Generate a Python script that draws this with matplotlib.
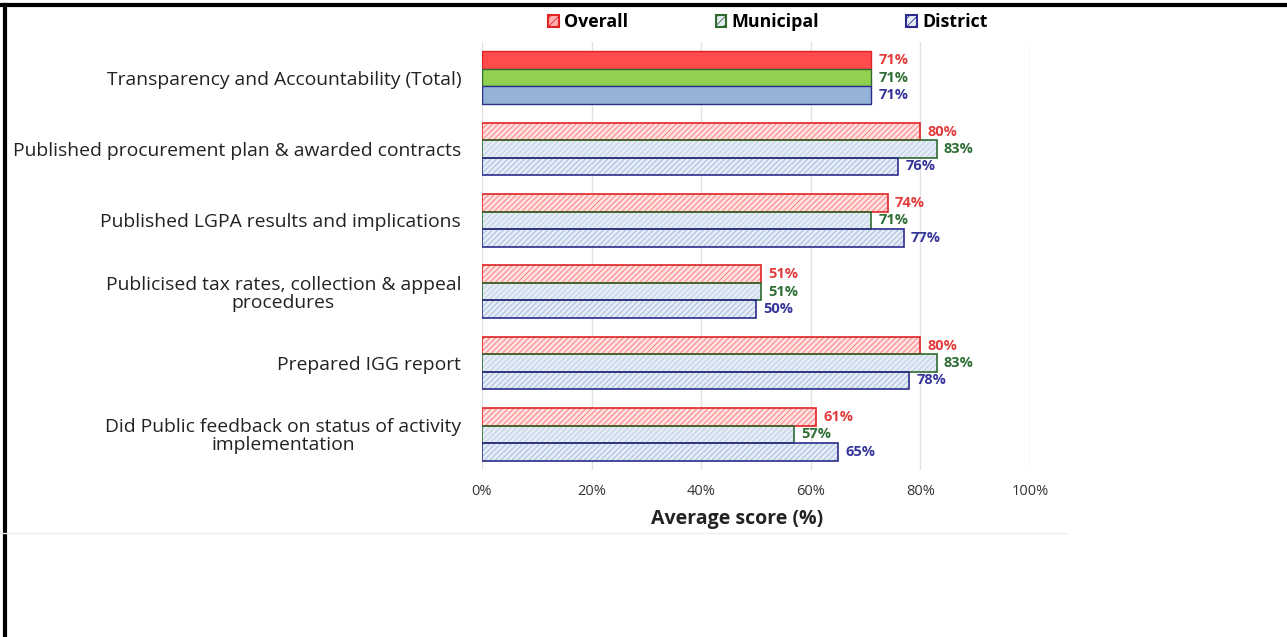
import numpy as np
import matplotlib
matplotlib.use("Agg")
import matplotlib.pyplot as plt
from matplotlib.patches import Patch
from matplotlib.lines import Line2D

plt.rcParams['font.family'] = ['Open Sans', 'DejaVu Sans']
plt.rcParams['hatch.linewidth'] = 0.6

# data
categories = [
    "Transparency and Accountability (Total)",
    "Published procurement plan & awarded contracts",
    "Published LGPA results and implications",
    "Publicised tax rates, collection & appeal\nprocedures",
    "Prepared IGG report",
    "Did Public feedback on status of activity\nimplementation",
]
series_names = ["Overall", "Municipal", "District"]
overall = [71, 80, 74, 51, 80, 61]
municipal = [71, 83, 71, 51, 83, 57]
district = [71, 76, 77, 50, 78, 65]

# styles
solid_fill = ["#ff4b4b", "#92d050", "#95b3d7"]
hatch_fill = ["#ffe0e0", "#e4ecf6", "#e4ecf6"]
hatch_col = ["#ff7070", "#b8cbe3", "#9db5dc"]
edge_col = ["#e02424", "#2f6b2f", "#2c2c8c"]
text_col = ["#e23c3c", "#2f6e35", "#35359a"]

fig = plt.figure(figsize=(12.87, 6.37), dpi=100)
ax = fig.add_axes([482 / 1287, 1 - 470 / 637, 548 / 1287, 428 / 637])

y = np.arange(len(categories))
h = 0.245
offsets = [-h, 0, h]
all_vals = [overall, municipal, district]

for s, vals in enumerate(all_vals):
    for i, v in enumerate(vals):
        yy = y[i] + offsets[s]
        if i == 0:
            ax.barh(yy, v, height=h, color=solid_fill[s], edgecolor=edge_col[s], linewidth=1.0, zorder=3)
        else:
            ax.barh(yy, v, height=h, color=hatch_fill[s], edgecolor=hatch_col[s], hatch='//////',
                    linewidth=0, zorder=3)
            ax.barh(yy, v, height=h, fill=False, edgecolor=edge_col[s], linewidth=1.2, zorder=4)
        ax.text(v + 1.3, yy, f"{v}%", color=text_col[s], fontsize=10.5, fontweight='bold',
                va='center', ha='left', zorder=5)

ax.set_xlim(0, 100)
ax.set_ylim(len(categories) - 0.5, -0.5)
ax.set_xticks(range(0, 101, 20))
ax.set_xticklabels([f"{t}%" for t in range(0, 101, 20)], fontsize=10.5, color="#333333")
ax.set_yticks(y)
ax.set_yticklabels(categories, fontsize=13.9, color="#222222", multialignment='center',
                   linespacing=1.0)
ax.tick_params(axis='both', length=0)
ax.tick_params(axis='y', pad=15)
ax.tick_params(axis='x', pad=10)
ax.grid(axis='x', color="#e2e2e2", linewidth=1.0, zorder=0)
for sp in ax.spines.values():
    sp.set_visible(False)
ax.set_xlabel("Average score (%)", fontsize=14, fontweight='bold', color="#222222")
ax.xaxis.set_label_coords(0.465, -0.092)

handles = []
for s in range(3):
    handles.append(Patch(facecolor=hatch_fill[s] if s else "#ffb0b0", edgecolor=edge_col[s],
                         hatch='////', linewidth=1.5, label=series_names[s]))
ax.legend(handles=handles, loc='lower center', bbox_to_anchor=(0.522, 1.0), ncol=3, frameon=False,
          prop={'weight': 'bold', 'size': 12.8}, handlelength=0.6, handleheight=0.6,
          handletextpad=0.3, columnspacing=4.9, borderaxespad=0.2)

# page frame and separator
fig.add_artist(Line2D([0, 1], [1 - 5 / 637, 1 - 5 / 637], color='black', linewidth=3))
fig.add_artist(Line2D([5 / 1287, 5 / 1287], [0, 1 - 5 / 637], color='black', linewidth=3))
fig.add_artist(Line2D([0, 1067 / 1287], [1 - 533 / 637, 1 - 533 / 637], color="#eeeeee", linewidth=1))

fig.savefig("out.png", dpi=100)
